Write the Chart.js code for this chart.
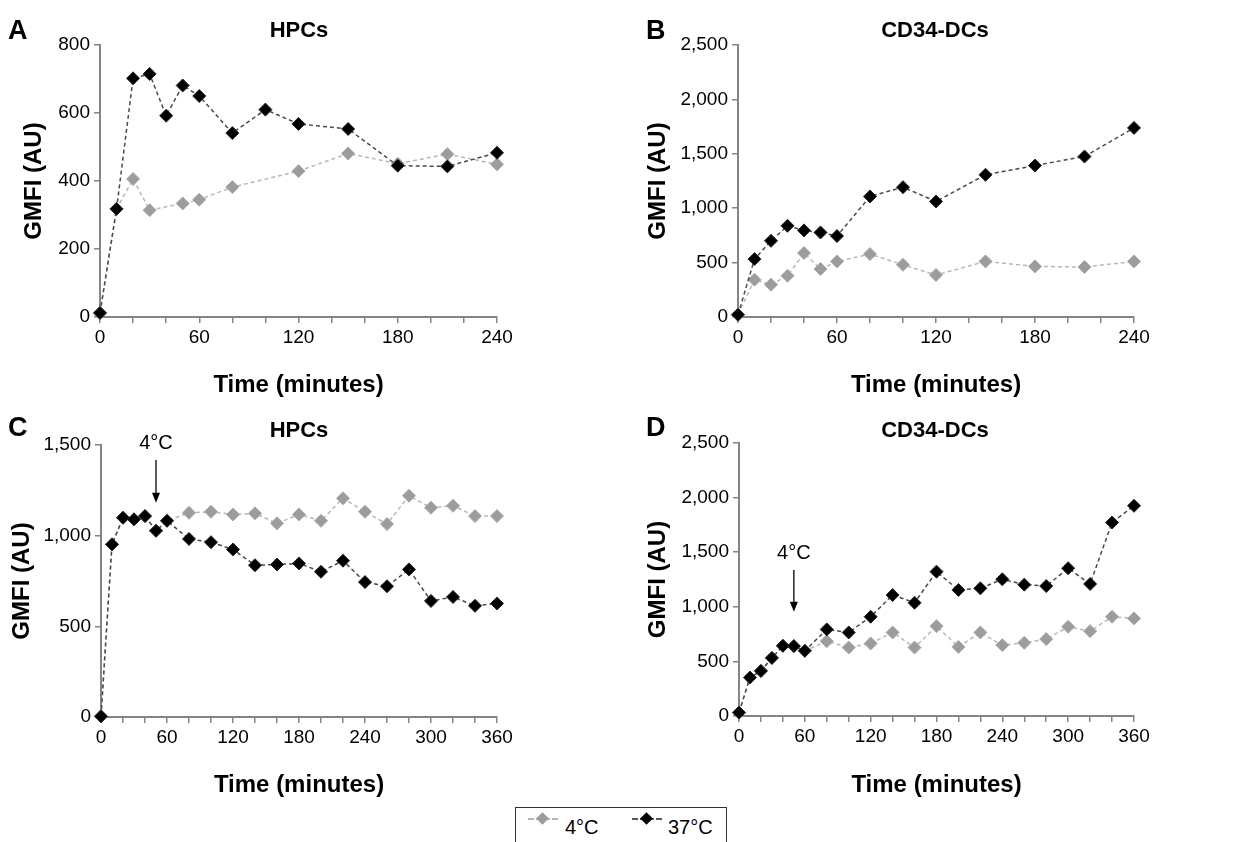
<!DOCTYPE html>
<html>
<head>
<meta charset="utf-8">
<script src="https://cdn.jsdelivr.net/npm/chart.js@4.4.1/dist/chart.umd.min.js"></script>
<style>
  body { margin: 0; background: #fff; }
  #page { position: relative; width: 1254px; height: 842px; overflow: hidden; font-family: "Liberation Sans", Arial, sans-serif; }
  .pane { position: absolute; }
  .letter { position: absolute; font-weight: bold; font-size: 27px; line-height: 1; transform: translateY(-50%); }
  .title { position: absolute; font-weight: bold; font-size: 22px; line-height: 1; transform: translate(-50%, -50%); white-space: nowrap; }
  #legend { position: absolute; left: 515px; top: 807px; width: 212px; height: 45px; border: 1.5px solid #333; box-sizing: border-box; }
  .item { position: absolute; top: 8px; font-size: 20px; line-height: 22px; }
  .sym { position: absolute; top: 10px; width: 30px; height: 2px; border-top: 2px dashed; }
  .dia { position: absolute; top: -6px; left: 10px; width: 9px; height: 9px; transform: rotate(45deg); }
</style>
</head>
<body>
<div id="page">
  <div class="pane" style="left:0;top:0;width:627px;height:400px"><canvas id="chartA"></canvas></div>
  <div class="pane" style="left:627px;top:0;width:627px;height:400px"><canvas id="chartB"></canvas></div>
  <div class="pane" style="left:0;top:390px;width:627px;height:410px"><canvas id="chartC"></canvas></div>
  <div class="pane" style="left:627px;top:390px;width:627px;height:410px"><canvas id="chartD"></canvas></div>

  <div class="letter" style="left:8px;top:30px">A</div>
  <div class="letter" style="left:646px;top:30px">B</div>
  <div class="letter" style="left:8px;top:427px">C</div>
  <div class="letter" style="left:646px;top:427px">D</div>
  <div class="title" style="left:299px;top:30px">HPCs</div>
  <div class="title" style="left:935px;top:30px">CD34-DCs</div>
  <div class="title" style="left:299px;top:430px">HPCs</div>
  <div class="title" style="left:935px;top:430px">CD34-DCs</div>

  <div id="legend">
    <div class="sym" style="left:12px;border-color:#b5b5b5"><div class="dia" style="background:#9c9c9c"></div></div>
    <div class="item" style="left:49px">4°C</div>
    <div class="sym" style="left:116px;border-color:#555"><div class="dia" style="background:#000"></div></div>
    <div class="item" style="left:152px">37°C</div>
  </div>
</div>

<script>
// panel A - HPCs, 4 h
const timesA37 = [0, 10, 20, 30, 40, 50, 60, 80, 100, 120, 150, 180, 210, 240];
const hpcA37 = [12, 318, 702, 715, 592, 681, 650, 541, 610, 568, 553, 445, 443, 483];
const timesA4 = [0, 10, 20, 30, 50, 60, 80, 120, 150, 180, 210, 240];
const hpcA4 = [12, 318, 406, 314, 334, 345, 382, 429, 481, 451, 479, 449];

// panel B - CD34-DCs, 4 h
const timesB = [0, 10, 20, 30, 40, 50, 60, 80, 100, 120, 150, 180, 210, 240];
const dcB37 = [21, 532, 700, 838, 796, 777, 744, 1108, 1193, 1062, 1307, 1392, 1475, 1738];
const dcB4 = [21, 343, 297, 379, 588, 441, 511, 578, 480, 386, 511, 465, 459, 511];

// panels C and D - 6 h, shifted to 4°C at 50 min
const timesCD = [0, 10, 20, 30, 40, 50, 60, 80, 100, 120, 140, 160, 180, 200, 220, 240, 260, 280, 300, 320, 340, 360];
const hpcC37 = [4, 952, 1099, 1090, 1108, 1027, 1082, 982, 964, 924, 837, 841, 847, 801, 862, 744, 721, 814, 640, 662, 613, 626];
const hpcC4 = [4, 952, 1099, 1090, 1108, 1027, 1082, 1126, 1132, 1117, 1123, 1068, 1117, 1082, 1206, 1132, 1064, 1220, 1154, 1165, 1108, 1108];
const dcD37 = [31, 352, 413, 532, 643, 640, 597, 793, 765, 909, 1108, 1037, 1322, 1154, 1169, 1252, 1203, 1190, 1353, 1209, 1772, 1925];
const dcD4 = [31, 352, 413, 532, 643, 640, 597, 685, 627, 664, 765, 627, 823, 633, 765, 649, 670, 704, 817, 777, 909, 894];

Chart.defaults.font.family = "'Liberation Sans', Arial, sans-serif";
Chart.defaults.color = "#000";

const axisGray = "#858585";

function pairs(xs, ys) {
    return xs.map((x, i) => ({ x: x, y: ys[i] }));
}

// arrow + "4°C" label at the temperature shift
const shiftMarker = {
    id: "shiftMarker",
    afterDraw(chart, args, opts) {
        if (!opts.show) return;
        const ctx = chart.ctx;
        const x = chart.scales.x.getPixelForValue(opts.at);
        const yText = chart.scales.y.getPixelForValue(opts.textY);
        const y1 = chart.scales.y.getPixelForValue(opts.from);
        const y2 = chart.scales.y.getPixelForValue(opts.to);
        ctx.save();
        ctx.fillStyle = "#000";
        ctx.strokeStyle = "#000";
        ctx.font = "20px 'Liberation Sans', Arial, sans-serif";
        ctx.textAlign = "center";
        ctx.textBaseline = "middle";
        ctx.fillText("4°C", x, yText);
        ctx.lineWidth = 1.3;
        ctx.beginPath();
        ctx.moveTo(x, y1);
        ctx.lineTo(x, y2 - 8);
        ctx.stroke();
        ctx.beginPath();
        ctx.moveTo(x - 4, y2 - 10);
        ctx.lineTo(x + 4, y2 - 10);
        ctx.lineTo(x, y2);
        ctx.closePath();
        ctx.fill();
        ctx.restore();
    }
};

function makePanel(id, p) {
    const ctx = document.getElementById(id).getContext("2d");
    return new Chart(ctx, {
        type: "line",
        data: {
            datasets: [
                {
                    label: "37°C",
                    data: pairs(p.t37, p.v37),
                    borderColor: "#4a4a4a",
                    borderWidth: 1.5,
                    borderDash: [4, 3],
                    pointStyle: "rectRot",
                    pointRadius: 6.5,
                    pointBackgroundColor: "#000",
                    pointBorderColor: "#222",
                    pointBorderWidth: 1,
                    order: 0,
                    clip: false
                },
                {
                    label: "4°C",
                    data: pairs(p.t4, p.v4),
                    borderColor: "#b8b8b8",
                    borderWidth: 1.5,
                    borderDash: [4, 3],
                    pointStyle: "rectRot",
                    pointRadius: 6.5,
                    pointBackgroundColor: "#9c9c9c",
                    pointBorderColor: "#a8a8a8",
                    pointBorderWidth: 1,
                    order: 1,
                    clip: false
                }
            ]
        },
        options: {
            responsive: true,
            maintainAspectRatio: false,
            animation: false,
            locale: "en-US",
            layout: { padding: { left: 0, top: p.padTop, right: p.padRight, bottom: 0 } },
            plugins: {
                legend: { display: false },
                tooltip: { enabled: false },
                shiftMarker: p.marker || { show: false }
            },
            scales: {
                x: {
                    type: "linear",
                    min: 0,
                    max: p.xMax,
                    afterFit: s => { s.height = p.xAxisH; },
                    ticks: {
                        stepSize: 20,
                        autoSkip: false,
                        maxRotation: 0,
                        padding: 3,
                        font: { size: 19 },
                        callback: v => (v % 60 === 0 ? String(v) : "")
                    },
                    grid: { drawOnChartArea: false, drawTicks: true, tickLength: 6, color: axisGray, lineWidth: 1.5 },
                    border: { display: true, color: axisGray, width: 2 },
                    title: {
                        display: true,
                        text: "Time (minutes)",
                        font: { size: 24, weight: "bold" },
                        padding: { top: 11, bottom: 0 }
                    }
                },
                y: {
                    min: 0,
                    max: p.yMax,
                    afterFit: s => { s.width = p.yAxisW; },
                    ticks: { stepSize: p.yStep, padding: 4, font: { size: 19 } },
                    grid: { drawOnChartArea: false, drawTicks: true, tickLength: 6, color: axisGray, lineWidth: 1.5 },
                    border: { display: true, color: axisGray, width: 2 },
                    title: {
                        display: true,
                        text: "GMFI (AU)",
                        font: { size: 24, weight: "bold" },
                        padding: { top: p.yTitlePad, bottom: 0 }
                    }
                }
            }
        },
        plugins: [shiftMarker]
    });
}

document.addEventListener("DOMContentLoaded", () => {
    makePanel("chartA", {
        t37: timesA37, v37: hpcA37, t4: timesA4, v4: hpcA4,
        xMax: 240, yMax: 800, yStep: 200,
        padTop: 45, padRight: 130, yAxisW: 100, xAxisH: 83, yTitlePad: 20
    });
    makePanel("chartB", {
        t37: timesB, v37: dcB37, t4: timesB, v4: dcB4,
        xMax: 240, yMax: 2500, yStep: 500,
        padTop: 45, padRight: 120, yAxisW: 111, xAxisH: 83, yTitlePad: 17
    });
    makePanel("chartC", {
        t37: timesCD, v37: hpcC37, t4: timesCD, v4: hpcC4,
        xMax: 360, yMax: 1500, yStep: 500,
        padTop: 55, padRight: 130, yAxisW: 101, xAxisH: 83, yTitlePad: 8,
        marker: { show: true, at: 50, textY: 1510, from: 1417, to: 1182 }
    });
    makePanel("chartD", {
        t37: timesCD, v37: dcD37, t4: timesCD, v4: dcD4,
        xMax: 360, yMax: 2500, yStep: 500,
        padTop: 53, padRight: 120, yAxisW: 112, xAxisH: 84, yTitlePad: 17,
        marker: { show: true, at: 50, textY: 1490, from: 1337, to: 955 }
    });
});
</script>
</body>
</html>
